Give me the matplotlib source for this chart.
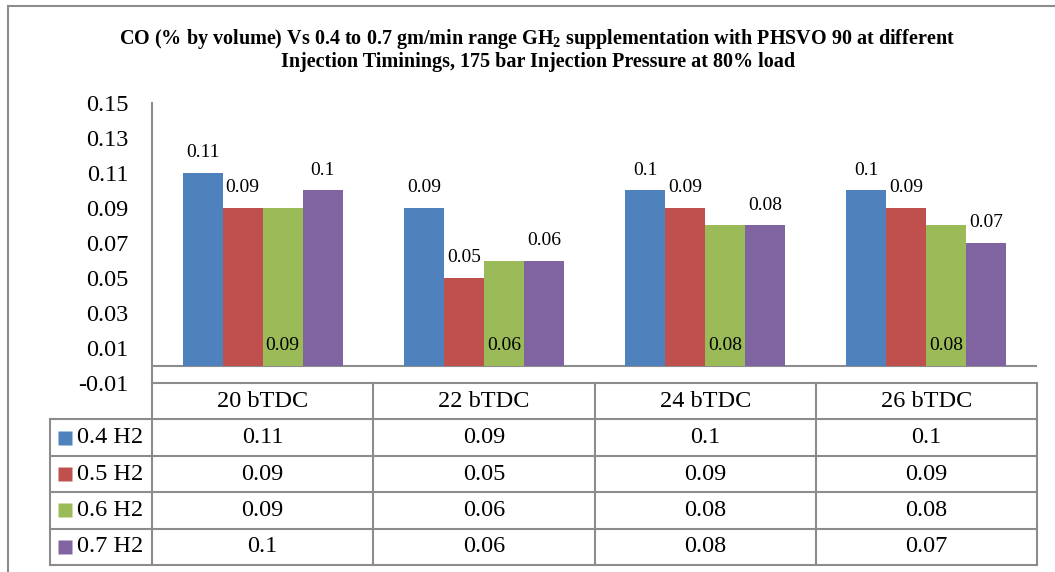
import numpy as np
import matplotlib
matplotlib.use("Agg")
import matplotlib.pyplot as plt
from matplotlib.lines import Line2D

# ---- data ----
categories = ["20 bTDC", "22 bTDC", "24 bTDC", "26 bTDC"]
series_names = ["0.4 H2", "0.5 H2", "0.6 H2", "0.7 H2"]
h2_04 = [0.11, 0.09, 0.10, 0.10]
h2_05 = [0.09, 0.05, 0.09, 0.09]
h2_06 = [0.09, 0.06, 0.08, 0.08]
h2_07 = [0.10, 0.06, 0.08, 0.07]
table_text = [["0.11", "0.09", "0.1", "0.1"],
              ["0.09", "0.05", "0.09", "0.09"],
              ["0.09", "0.06", "0.08", "0.08"],
              ["0.1", "0.06", "0.08", "0.07"]]
yticks = [-0.01, 0.01, 0.03, 0.05, 0.07, 0.09, 0.11, 0.13, 0.15]
ytick_labels = ["-0.01", "0.01", "0.03", "0.05", "0.07", "0.09", "0.11", "0.13", "0.15"]

series = [h2_04, h2_05, h2_06, h2_07]
colors = ["#4F81BD", "#C0504D", "#9BBB59", "#8064A2"]
label_inside = [False, False, True, False]

plt.rcParams['font.family'] = ['Liberation Serif', 'DejaVu Serif']
plt.rcParams['mathtext.fontset'] = 'custom'
plt.rcParams['mathtext.rm'] = 'Liberation Serif:bold'
plt.rcParams['mathtext.it'] = 'Liberation Serif:italic:bold'
plt.rcParams['mathtext.bf'] = 'Liberation Serif:bold'

GREY = "#8c8c8c"
W, H = 1055, 572
fig = plt.figure(figsize=(W / 100, H / 100), dpi=100)


def box(l, t, r, b):
    return [l / W, 1 - b / H, (r - l) / W, (b - t) / H]


# outer frame (top and left)
fig.add_artist(Line2D([8 / W, 1.0], [1 - 6 / H, 1 - 6 / H], transform=fig.transFigure, color=GREY, lw=1.5))
fig.add_artist(Line2D([8 / W, 8 / W], [1 - 6 / H, 0.0], transform=fig.transFigure, color=GREY, lw=1.5))

# title
fig.text(537 / W, 1 - 44 / H,
         "CO (% by volume) Vs 0.4 to 0.7 gm/min range GH$_2$ supplementation with PHSVO 90 at different",
         ha='center', va='baseline', fontsize=14.5, fontweight='bold')
fig.text(538 / W, 1 - 67 / H,
         "Injection Timinings, 175 bar Injection Pressure at 80% load",
         ha='center', va='baseline', fontsize=14.5, fontweight='bold')

# ---- bar chart ----
ax = fig.add_axes(box(152, 103, 1037, 383))
x = np.arange(len(categories))
bw = 40 / 221
for i, vals in enumerate(series):
    xs = x + (i - 1.5) * bw
    ax.bar(xs, vals, bw, color=colors[i], edgecolor='none', zorder=2)
    for xi, v in zip(xs, vals):
        if label_inside[i]:
            ax.annotate(f"{v:g}", (xi, 0), xytext=(0, 14.4), textcoords='offset points',
                        ha='center', va='center', fontsize=14, zorder=3)
        else:
            ax.annotate(f"{v:g}", (xi, v), xytext=(0, 14.4), textcoords='offset points',
                        ha='center', va='center', fontsize=14, zorder=3)

ax.axhline(0, color=GREY, lw=1.5, zorder=1)
ax.set_xlim(-0.5, len(categories) - 0.5)
ax.set_ylim(-0.01, 0.15)
ax.set_yticks(yticks)
ax.set_yticklabels(ytick_labels, fontsize=17.5)
ax.tick_params(axis='y', length=0, pad=17)
ax.set_xticks([])
for s in ['top', 'right', 'bottom']:
    ax.spines[s].set_visible(False)
ax.spines['left'].set_color(GREY)
ax.spines['left'].set_linewidth(1.5)

# ---- data table ----
tab = fig.add_axes(box(50, 383, 1037, 565))
leg_w = 102 / 221
n_rows = len(series) + 1
tab.set_xlim(-0.5 - leg_w, len(categories) - 0.5)
tab.set_ylim(n_rows, 0)
tab.axis('off')

# horizontal lines
tab.plot([-0.5, len(categories) - 0.5], [0, 0], color=GREY, lw=1.5, clip_on=False)
for r in range(1, n_rows + 1):
    tab.plot([-0.5 - leg_w, len(categories) - 0.5], [r, r], color=GREY, lw=1.5, clip_on=False)
# vertical lines
for c in range(len(categories) + 1):
    tab.plot([c - 0.5, c - 0.5], [0, n_rows], color=GREY, lw=1.5, clip_on=False)
tab.plot([-0.5 - leg_w, -0.5 - leg_w], [1, n_rows], color=GREY, lw=1.5, clip_on=False)

for j, cat in enumerate(categories):
    tab.text(j, 0.5, cat, ha='center', va='center', fontsize=17.5)
for i, name in enumerate(series_names):
    yc = i + 1.5
    tab.plot([-0.5 - 87 / 221], [yc], marker='s', ms=10, color=colors[i], mec='none', clip_on=False)
    tab.text(-0.5 - 75 / 221, yc, name, ha='left', va='center', fontsize=17.5)
    for j in range(len(categories)):
        tab.text(j, yc, table_text[i][j], ha='center', va='center', fontsize=17.5)

fig.savefig("out.png", dpi=100)
